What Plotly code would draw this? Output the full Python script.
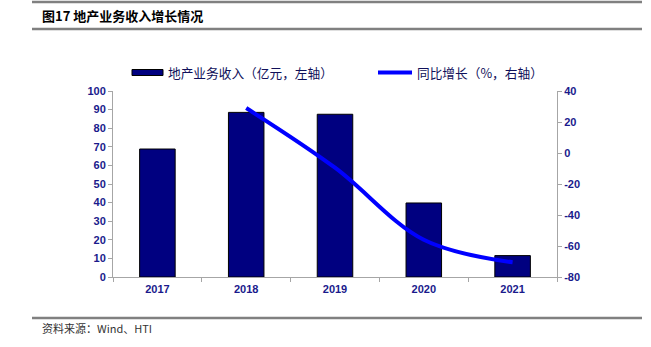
import plotly.graph_objects as go

# Data
years = ["2017", "2018", "2019", "2020", "2021"]
revenue = [68.8, 88.5, 87.5, 39.8, 11.5]          # 亿元, left axis
growth_years = ["2018", "2019", "2020", "2021"]
growth = [29.0, -9.5, -56.0, -70.5]               # %, right axis
left_ticks = list(range(0, 101, 10))
right_ticks = list(range(-80, 41, 20))

W, H = 651, 347
L, R, T, B = 113, 557, 91, 277   # plot area in pixels

def px(x):
    return (x - L) / (R - L)

def py(y):
    return (B - y) / (B - T)

navy = "#000080"
label_col = "#1a1a8c"
axis_col = "#a6a6a6"
tick_font = dict(family="Liberation Sans, Arial", size=11, color=label_col, weight="bold")

fig = go.Figure()
fig.add_trace(go.Bar(
    x=years, y=revenue, name="地产业务收入（亿元，左轴）",
    marker=dict(color=navy, line=dict(color="#000000", width=1)),
    width=0.4, yaxis="y", showlegend=False,
))
fig.add_trace(go.Scatter(
    x=growth_years, y=growth, name="同比增长（%，右轴）",
    mode="lines", line=dict(color="#0000ff", width=4, shape="spline", smoothing=1.0),
    yaxis="y2", showlegend=False,
))

fig.update_layout(
    width=W, height=H,
    margin=dict(l=L, r=W - R, t=T, b=H - B),
    paper_bgcolor="white", plot_bgcolor="white",
    xaxis=dict(
        type="category", range=[-0.5, 4.5], tickson="boundaries",
        ticks="outside", ticklen=4, tickcolor=axis_col,
        showline=True, linecolor=axis_col, linewidth=1,
        showgrid=False, zeroline=False,
        tickfont=tick_font, ticklabelstandoff=2,
    ),
    yaxis=dict(
        range=[0, 100], tickvals=left_ticks, ticktext=[str(v) for v in left_ticks],
        ticks="outside", ticklen=4, tickcolor=axis_col,
        showline=True, linecolor=axis_col, linewidth=1,
        showgrid=False, zeroline=False, tickfont=tick_font,
    ),
    yaxis2=dict(
        range=[-80, 40], tickvals=right_ticks, ticktext=[str(v) for v in right_ticks],
        overlaying="y", side="right",
        ticks="outside", ticklen=4, tickcolor=axis_col,
        showline=True, linecolor=axis_col, linewidth=1,
        showgrid=False, zeroline=False, tickfont=tick_font,
    ),
    showlegend=False,
)

shapes = []
# Rules: top, under heading, above source line
for yy in (2, 29, 318):
    shapes.append(dict(type="line", xref="paper", yref="paper",
                       x0=px(32), x1=px(642), y0=py(yy), y1=py(yy),
                       line=dict(color="#808080", width=2.5)))
# Legend swatches
shapes.append(dict(type="rect", xref="paper", yref="paper",
                   x0=px(132), x1=px(163), y0=py(75.5), y1=py(69.5),
                   fillcolor=navy, line=dict(color="#000000", width=1)))
shapes.append(dict(type="line", xref="paper", yref="paper",
                   x0=px(378), x1=px(412), y0=py(72.5), y1=py(72.5),
                   line=dict(color="#0000ff", width=4)))
fig.update_layout(shapes=shapes)

cjk = "Noto Sans CJK SC"
annotations = [
    dict(text="<b>图17 地产业务收入增长情况</b>", x=px(40), y=py(16),
         font=dict(family=cjk, size=13, color="#000000")),
    dict(text="地产业务收入（亿元，左轴）", x=px(166), y=py(72.5),
         font=dict(family=cjk, size=12.7, color="#10105a")),
    dict(text="同比增长（%，右轴）", x=px(415), y=py(72.5),
         font=dict(family=cjk, size=12.7, color="#10105a")),
    dict(text="资料来源：Wind、HTI", x=px(40), y=py(327.5),
         font=dict(family=cjk, size=11, color="#333333")),
]
for a in annotations:
    a.update(xref="paper", yref="paper", xanchor="left", yanchor="middle",
             showarrow=False)
fig.update_layout(annotations=annotations)

fig.write_html("out.html")
